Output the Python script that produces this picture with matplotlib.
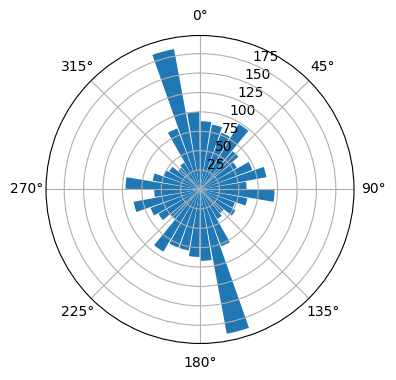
"""
Polar histogram of directions (wind rose style)
"""
import numpy as np
import matplotlib
matplotlib.use("Agg")
import matplotlib.pyplot as plt

# Bin centres in degrees (10 degree bins) and counts
bin_centres = [5, 15, 25, 35, 45, 55, 65, 75, 85,
               95, 105, 115, 125, 135, 145, 155, 165, 175,
               185, 195, 205, 215, 225, 235, 245, 255, 265,
               275, 285, 295, 305, 315, 325, 335, 345, 355]
counts = [88, 85, 78, 98, 65, 55, 72, 87, 60,
          96, 62, 48, 53, 40, 44, 78, 189, 92,
          87, 80, 80, 93, 50, 62, 68, 87, 59,
          96, 62, 50, 46, 37, 40, 84, 184, 100]

fig = plt.figure(figsize=(3.96, 3.8))
ax = fig.add_axes([0.1162, 0.0961, 0.7778, 0.8105], projection="polar")
ax.set_theta_zero_location("N")
ax.set_theta_direction(-1)

theta = np.deg2rad(bin_centres)
bin_w = np.deg2rad(10)
ax.bar(theta, counts, width=bin_w * 0.9, bottom=0.0, color="#1f77b4")

ax.set_yticks([25, 50, 75, 100, 125, 150, 175])

fig.savefig("out.png")
